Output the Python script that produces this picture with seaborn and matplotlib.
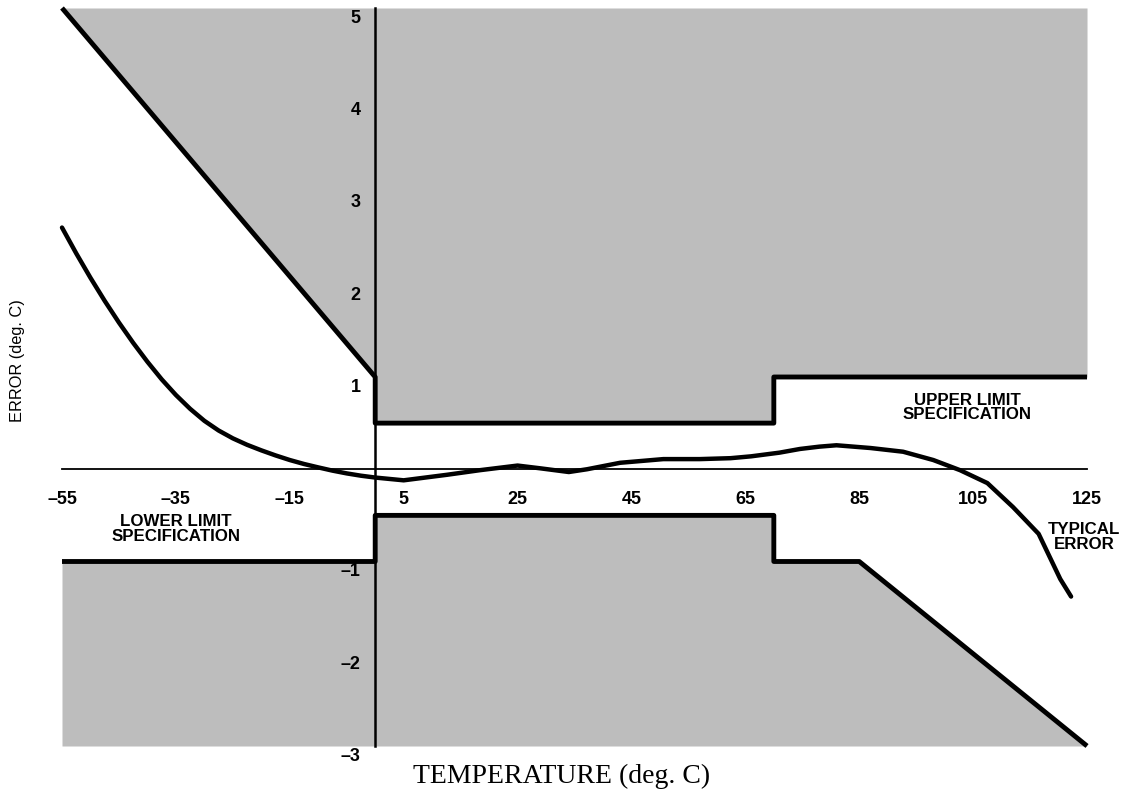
import numpy as np
import pandas as pd
import seaborn as sns
from matplotlib import pyplot as plt
from matplotlib import transforms

# limit specification outlines
upper_x = [-55, 0, 0, 70, 70, 125]
upper_y = [5, 1, 0.5, 0.5, 1, 1]
lower_x = [-55, 0, 0, 70, 70, 85, 125]
lower_y = [-1, -1, -0.5, -0.5, -1, -1, -3]

# typical error curve
typical_x = [-55, -52.5, -50, -47.5, -45, -42.5, -40, -37.5, -35, -32.5, -30, -27.5, -25,
             -22.5, -20, -17.5, -15, -12.5, -10, -7.5, -5, -2.5, 0, 5, 12.6, 18.4, 25, 29,
             34, 37.2, 43, 50.6, 57, 62.4, 66, 71, 74.6, 78, 81, 87, 92.7, 98, 102.7,
             107.5, 112, 116.5, 120.3, 122.2]
typical_y = [2.62, 2.34, 2.075, 1.825, 1.59, 1.37, 1.165, 0.975, 0.805, 0.655, 0.525, 0.42,
             0.335, 0.265, 0.205, 0.15, 0.10, 0.057, 0.02, -0.015, -0.045, -0.07, -0.09,
             -0.12, -0.06, -0.01, 0.04, 0.01, -0.03, 0.0, 0.07, 0.11, 0.11, 0.12, 0.14,
             0.18, 0.22, 0.245, 0.26, 0.23, 0.19, 0.10, -0.01, -0.15, -0.41, -0.70, -1.19,
             -1.38]

x_ticks = [-55, -35, -15, 5, 25, 45, 65, 85, 105, 125]
y_ticks = [5, 4, 3, 2, 1, -1, -2, -3]

sns.set_style("white")
plt.rcParams['font.family'] = ['Liberation Sans', 'DejaVu Sans']
plt.rcParams['text.color'] = 'black'

fig = plt.figure(figsize=(11.23, 7.99), dpi=100)
ax = fig.add_axes([62 / 1123, 53 / 799, 1053.5 / 1123, 738 / 799])
ax.set_axisbelow(False)

shade = '#bdbdbd'
ax.fill_between(upper_x, upper_y, 5, color=shade, lw=0, zorder=0)
ax.fill_between(lower_x, lower_y, -3, color=shade, lw=0, zorder=0)

lines = pd.concat([
    pd.DataFrame({'x': upper_x, 'y': upper_y, 'kind': 'upper'}),
    pd.DataFrame({'x': lower_x, 'y': lower_y, 'kind': 'lower'}),
])
for kind, grp in lines.groupby('kind'):
    sns.lineplot(data=grp, x='x', y='y', sort=False, estimator=None, color='black',
                 lw=3.5, ax=ax, clip_on=False, solid_capstyle='butt')

sns.lineplot(x=typical_x, y=typical_y, sort=False, estimator=None, color='black',
             lw=3.2, ax=ax, clip_on=False)

ax.set_xlim(-55, 130)
ax.set_ylim(-3, 5)
for s in ['top', 'right']:
    ax.spines[s].set_visible(False)
ax.spines['left'].set_position(('data', 0))
ax.spines['bottom'].set_position(('data', 0))
ax.spines['left'].set_bounds(-3, 5)
ax.spines['bottom'].set_bounds(-55, 125)
ax.spines['left'].set_linewidth(1.8)
ax.spines['bottom'].set_linewidth(1.3)
ax.spines['left'].set_color('black')
ax.spines['bottom'].set_color('black')

ax.set_xticks(x_ticks)
ax.set_xticklabels([str(v).replace('-', '\u2013') for v in x_ticks])
ax.set_yticks(y_ticks)
ax.set_yticklabels([str(v).replace('-', '\u2013') for v in y_ticks])
ax.tick_params(axis='x', direction='inout', length=15, width=1.3, pad=8,
               labelsize=13, colors='black')
ax.tick_params(axis='y', direction='inout', length=15, width=1.5, pad=3,
               labelsize=13, colors='black')
for lab in ax.get_xticklabels() + ax.get_yticklabels():
    lab.set_fontweight('bold')
off = transforms.ScaledTranslation(0, -6 / 72, fig.dpi_scale_trans)
for lab in ax.get_yticklabels():
    lab.set_transform(lab.get_transform() + off)
ax.set_xlabel('')
ax.set_ylabel('')

# annotations: x in data units, y as a fraction of the axes height
tr = transforms.blended_transform_factory(ax.transData, ax.transAxes)
txt = dict(ha='center', va='center', fontsize=12.2, fontweight='bold', linespacing=0.95,
           color='black', transform=tr)
ax.text(104, 0.459, 'UPPER LIMIT\nSPECIFICATION', **txt)
ax.text(-35, 0.294, 'LOWER LIMIT\nSPECIFICATION', **txt)
ax.text(124.5, 0.283, 'TYPICAL\nERROR', **txt)

fig.text(18 / 1123, 1 - 361 / 799, 'ERROR (deg. C)', rotation=90, ha='center',
         va='center', fontsize=11.8, color='black')
fig.text(562 / 1123, 1 - 776 / 799, 'TEMPERATURE (deg. C)', ha='center', va='center',
         fontsize=20, color='black', family=['Liberation Serif', 'DejaVu Serif'])

fig.savefig('out.png', dpi=100)
